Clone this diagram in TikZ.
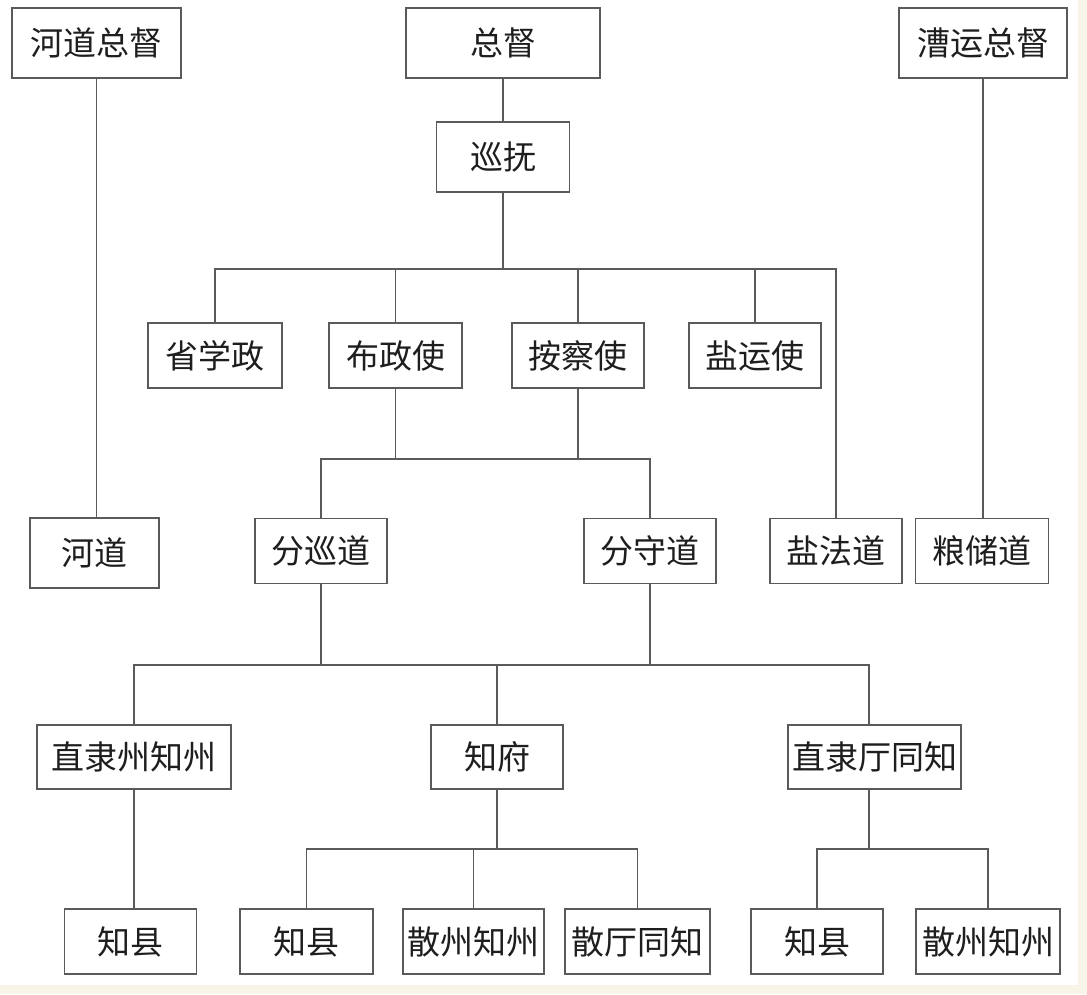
\documentclass[tikz,border=0pt]{standalone}
\usepackage{fontspec}
\newfontfamily\cjk{Noto Sans CJK SC}
\definecolor{cream}{HTML}{F8F4E8}
\definecolor{linegray}{HTML}{5A5A5A}
\definecolor{txt}{HTML}{1E1E1E}
\begin{document}
\begin{tikzpicture}[x=1pt,y=-1pt,
  box/.style={draw=linegray,line width=1.4pt,fill=white,inner sep=0pt,
    minimum height=65pt,text=txt,font=\cjk\fontsize{33}{33}\selectfont},
  conn/.style={draw=linegray,line width=1.4pt}]
\fill[cream] (0,0) rectangle (1087,994);
\fill[white] (0,0) rectangle (1078,985);
\useasboundingbox (0,0) rectangle (1087,994);
% row 0
\node[box,minimum width=169pt,minimum height=70pt] (hdzd) at (96.5,43) {河道总督};
\node[box,minimum width=194pt,minimum height=70pt] (zd) at (503,43) {总督};
\node[box,minimum width=168pt,minimum height=70pt] (cyzd) at (983,43) {漕运总督};
% row 1
\node[box,minimum width=133pt,minimum height=70pt] (xf) at (503,157) {巡抚};
% row 2
\node[box,minimum width=134pt] (sxz) at (215,355.5) {省学政};
\node[box,minimum width=133pt] (bzs) at (395.5,355.5) {布政使};
\node[box,minimum width=132pt] (acs) at (578,355.5) {按察使};
\node[box,minimum width=132pt] (yys) at (755,355.5) {盐运使};
% row 3
\node[box,minimum width=129pt,minimum height=70pt] (hd) at (94.5,553) {河道};
\node[box,minimum width=132pt] (fxd) at (321,551) {分巡道};
\node[box,minimum width=132pt] (fsd) at (650,551) {分守道};
\node[box,minimum width=132pt] (yfd) at (836,551) {盐法道};
\node[box,minimum width=133pt] (lcd) at (982,551) {粮储道};
% row 4
\node[box,minimum width=194pt,minimum height=64pt] (zlzz) at (134,757) {直隶州知州};
\node[box,minimum width=132pt,minimum height=64pt] (zf) at (497,757) {知府};
\node[box,minimum width=173pt,minimum height=64pt] (ztt) at (874.5,757) {直隶厅同知};
% row 5
\node[box,minimum width=132pt] (zx1) at (130.5,941.5) {知县};
\node[box,minimum width=133pt] (zx2) at (306.5,941.5) {知县};
\node[box,minimum width=141pt] (szz1) at (473.5,941.5) {散州知州};
\node[box,minimum width=145pt] (stt) at (637.5,941.5) {散厅同知};
\node[box,minimum width=132pt] (zx3) at (817,941.5) {知县};
\node[box,minimum width=144pt] (szz2) at (988,941.5) {散州知州};
% junction coordinates
\coordinate (j1) at (503,269);
\coordinate (j2) at (0,459);
\coordinate (j3) at (0,665);
\coordinate (j4) at (0,849);
\coordinate (ztx) at (869,665);
% connectors
\draw[conn] (hdzd.south) -- (hdzd.south |- hd.north);
\draw[conn] (cyzd.south) -- (cyzd.south |- lcd.north);
\draw[conn] (zd.south) -- (xf.north);
\draw[conn] (xf.south) -- (j1);
\draw[conn] (sxz.north) |- (yfd.north |- j1) -- (yfd.north);
\draw[conn] (bzs.north) -- (bzs.north |- j1);
\draw[conn] (acs.north) -- (acs.north |- j1);
\draw[conn] (yys.north) -- (yys.north |- j1);
\draw[conn] (bzs.south) -- (bzs.south |- j2);
\draw[conn] (acs.south) -- (acs.south |- j2);
\draw[conn] (fxd.north) |- (fsd.north |- j2) -- (fsd.north);
\draw[conn] (fxd.south) -- (fxd.south |- j3);
\draw[conn] (fsd.south) -- (fsd.south |- j3);
\draw[conn] (zlzz.north) |- (ztx) -- (ztx |- ztt.north);
\draw[conn] (zf.north) -- (zf.north |- j3);
\draw[conn] (zlzz.south) -- (zlzz.south |- zx1.north);
\draw[conn] (zf.south) -- (zf.south |- j4);
\draw[conn] (zx2.north) |- (stt.north |- j4) -- (stt.north);
\draw[conn] (szz1.north) -- (szz1.north |- j4);
\draw[conn] (ztx |- ztt.south) -- (ztx |- j4);
\draw[conn] (zx3.north) |- (szz2.north |- j4) -- (szz2.north);
\end{tikzpicture}
\end{document}
